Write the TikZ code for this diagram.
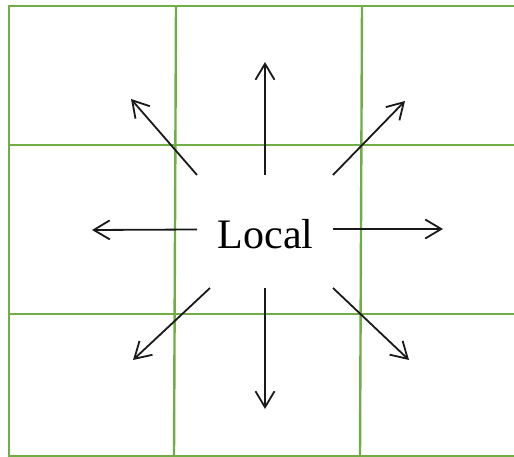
\documentclass[tikz,border=0pt]{standalone}
\usepackage{fontspec}
\setmainfont{Liberation Serif}
\usetikzlibrary{arrows.meta}
\definecolor{gridgreen}{RGB}{112,173,71}
\begin{document}
\begin{tikzpicture}[x=1pt,y=-1pt,
  gridline/.style={draw=gridgreen,line width=2.4pt},
  ray/.style={draw=black!90,line width=1.8pt,-{Straight Barb[length=16pt,width=19pt,line width=1.8pt]}},
  label/.style={font=\fontsize{42}{46}\selectfont,inner sep=0pt}]
\useasboundingbox (0,0) rectangle (514,457);
% grid of cells, open on the right
\draw[gridline] (514,6) -- (9,6) -- (9,456) -- (514,456);
\draw[gridline] (176,6) -- (174,456);
\draw[gridline] (362,6) -- (360,456);
\draw[gridline] (9,145) -- (514,145);
\draw[gridline] (9,314) -- (514,314);
% central label
\node[label,anchor=base] (local) at (265.5,248) {Local};
% ray ends
\coordinate (nS) at (265,175);  \coordinate (nE) at (265,62);
\coordinate (sS) at (265,288);  \coordinate (sE) at (265,409);
\coordinate (wS) at (197,229.5);\coordinate (wE) at (92,230);
\coordinate (eS) at (333,229);  \coordinate (eE) at (443,229);
\coordinate (nwS) at (197,175); \coordinate (nwE) at (131,99);
\coordinate (neS) at (333,175); \coordinate (neE) at (405,101);
\coordinate (swS) at (210,288); \coordinate (swE) at (133,360);
\coordinate (seS) at (333,288); \coordinate (seE) at (409,360);
\foreach \d in {n,s,w,e,nw,ne,sw,se}
  \draw[ray] (\d S) -- (\d E);
\end{tikzpicture}
\end{document}
